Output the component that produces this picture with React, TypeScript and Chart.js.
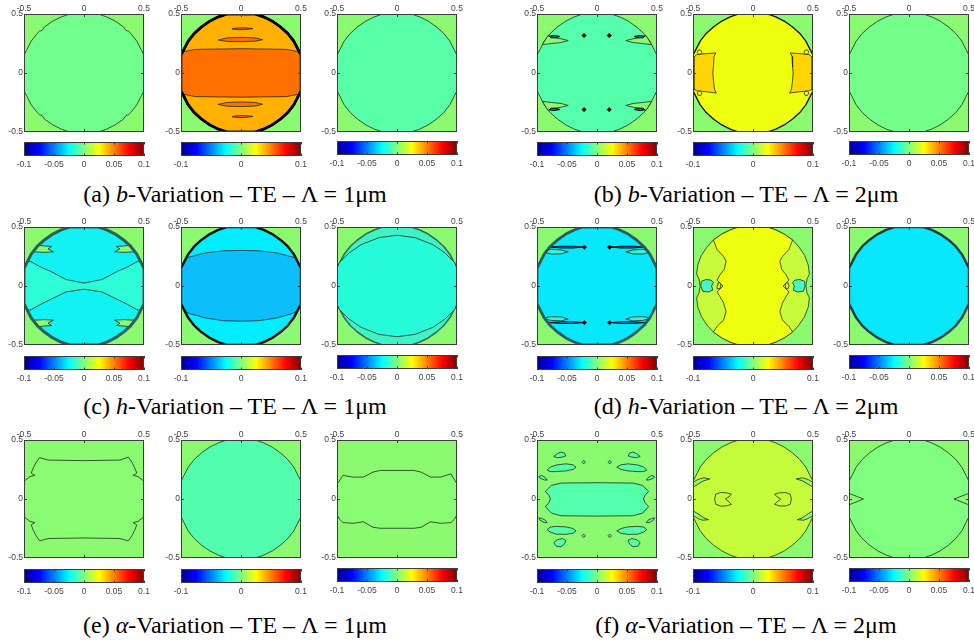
import React, { useEffect, useRef } from 'react';
import { Chart, registerables } from 'chart.js';

Chart.register(...registerables);

type Pt = [number, number];

// ---------------- tick values ----------------
const AXIS_TICKS = [-0.5, 0, 0.5];
const CB_TICKS_FULL = [-0.1, -0.05, 0, 0.05, 0.1];
const CB_TICKS_SHORT = [-0.1, 0, 0.1];
const CB_RANGE: [number, number] = [-0.1, 0.1];

// ---------------- captions ----------------
const CAPTION_LETTERS = ['a', 'b', 'c', 'd', 'e', 'f'];
const CAPTION_VARS = ['b', 'b', 'h', 'h', 'α', 'α'];
const CAPTION_LAMBDA = ['1μm', '2μm', '1μm', '2μm', '1μm', '2μm'];

// ---------------- contour regions (normalised x, y) ----------------
const BOX: Pt[] = [[-0.5, -0.5], [0.5, -0.5], [0.5, 0.5], [-0.5, 0.5]];

const DISC: Pt[] = [
  [-0.12, 0.5], [0.12, 0.5], [0.19, 0.475], [0.26, 0.44], [0.33, 0.39], [0.39, 0.335], [0.44, 0.27], [0.475, 0.2], [0.5, 0.15],
  [0.5, -0.15], [0.475, -0.2], [0.44, -0.27], [0.39, -0.335], [0.33, -0.39], [0.26, -0.44], [0.19, -0.475], [0.12, -0.5],
  [-0.12, -0.5], [-0.19, -0.475], [-0.26, -0.44], [-0.33, -0.39], [-0.39, -0.335], [-0.44, -0.27], [-0.475, -0.2], [-0.5, -0.15],
  [-0.5, 0.15], [-0.475, 0.2], [-0.44, 0.27], [-0.39, 0.335], [-0.33, 0.39], [-0.26, 0.44], [-0.19, 0.475],
];

const A1_DISC: Pt[] = [
  [-0.12, 0.5], [0.12, 0.5], [0.19, 0.475], [0.26, 0.44], [0.33, 0.39], [0.35, 0.36], [0.37, 0.355], [0.39, 0.335], [0.44, 0.27], [0.475, 0.2], [0.5, 0.15],
  [0.5, -0.15], [0.475, -0.2], [0.44, -0.27], [0.39, -0.335], [0.37, -0.355], [0.35, -0.36], [0.33, -0.39], [0.26, -0.44], [0.19, -0.475], [0.12, -0.5],
  [-0.12, -0.5], [-0.19, -0.475], [-0.26, -0.44], [-0.33, -0.39], [-0.35, -0.36], [-0.37, -0.355], [-0.39, -0.335], [-0.44, -0.27], [-0.475, -0.2], [-0.5, -0.15],
  [-0.5, 0.15], [-0.475, 0.2], [-0.44, 0.27], [-0.39, 0.335], [-0.37, 0.355], [-0.35, 0.36], [-0.33, 0.39], [-0.26, 0.44], [-0.19, 0.475],
];

const A2_BAND: Pt[] = [
  [-0.48, 0.18], [-0.38, 0.2], [0, 0.206], [0.38, 0.2], [0.48, 0.18], [0.5, 0.15], [0.5, -0.15], [0.48, -0.18],
  [0.38, -0.2], [0, -0.205], [-0.38, -0.2], [-0.48, -0.18], [-0.5, -0.15], [-0.5, 0.15],
];
const A2_SLIT_1: Pt[] = [[-0.075, 0.374], [-0.03, 0.382], [0.03, 0.384], [0.1, 0.376], [0.03, 0.368], [-0.03, 0.367]];
const A2_SLIT_2: Pt[] = [[-0.19, 0.28], [-0.12, 0.297], [0, 0.302], [0.12, 0.297], [0.18, 0.282], [0.12, 0.27], [0, 0.265], [-0.12, 0.268]];
const A2_SLIT_3: Pt[] = [[-0.19, -0.266], [-0.12, -0.25], [0, -0.245], [0.12, -0.25], [0.18, -0.264], [0.12, -0.28], [0, -0.285], [-0.12, -0.281]];
const A2_SLIT_4: Pt[] = [[-0.075, -0.37], [-0.03, -0.362], [0.03, -0.361], [0.1, -0.368], [0.03, -0.377], [-0.03, -0.378]];

const B1_BAY_TL: Pt[] = [[-0.41, 0.315], [-0.36, 0.3], [-0.3, 0.29], [-0.24, 0.275], [-0.3, 0.258], [-0.38, 0.25], [-0.455, 0.24]];
const B1_BAY_TR: Pt[] = [[0.41, 0.315], [0.36, 0.3], [0.3, 0.29], [0.24, 0.275], [0.3, 0.258], [0.38, 0.25], [0.455, 0.24]];
const B1_BAY_BL: Pt[] = [[-0.41, -0.315], [-0.36, -0.3], [-0.3, -0.29], [-0.24, -0.275], [-0.3, -0.258], [-0.38, -0.25], [-0.455, -0.24]];
const B1_BAY_BR: Pt[] = [[0.41, -0.315], [0.36, -0.3], [0.3, -0.29], [0.24, -0.275], [0.3, -0.258], [0.38, -0.25], [0.455, -0.24]];
const B1_BLOB_TL: Pt[] = [[-0.4, 0.312], [-0.36, 0.318], [-0.31, 0.31], [-0.33, 0.3], [-0.38, 0.298]];
const B1_BLOB_TR: Pt[] = [[0.4, 0.312], [0.36, 0.318], [0.31, 0.31], [0.33, 0.3], [0.38, 0.298]];
const B1_BLOB_BL: Pt[] = [[-0.4, -0.312], [-0.36, -0.318], [-0.31, -0.31], [-0.33, -0.3], [-0.38, -0.298]];
const B1_BLOB_BR: Pt[] = [[0.4, -0.312], [0.36, -0.318], [0.31, -0.31], [0.33, -0.3], [0.38, -0.298]];
const B1_MARKS: Pt[] = [[-0.108, 0.318], [0.102, 0.318], [-0.108, -0.31], [0.102, -0.31]];

const B2_SIDE_L: Pt[] = [
  [-0.5, 0.13], [-0.47, 0.155], [-0.43, 0.16], [-0.38, 0.165], [-0.31, 0.17], [-0.325, 0.14], [-0.33, 0.05], [-0.335, 0],
  [-0.33, -0.06], [-0.32, -0.14], [-0.305, -0.17], [-0.38, -0.16], [-0.43, -0.155], [-0.47, -0.15], [-0.5, -0.13],
];
const B2_SIDE_R: Pt[] = [
  [0.5, 0.13], [0.47, 0.155], [0.43, 0.16], [0.38, 0.165], [0.31, 0.17], [0.325, 0.14], [0.33, 0.05], [0.335, 0],
  [0.33, -0.06], [0.32, -0.14], [0.305, -0.17], [0.38, -0.16], [0.43, -0.155], [0.47, -0.15], [0.5, -0.13],
];
const B2_LOOP_TL: Pt[] = [[-0.465, 0.175], [-0.455, 0.195], [-0.435, 0.195], [-0.425, 0.175], [-0.435, 0.16], [-0.455, 0.16]];
const B2_LOOP_TR: Pt[] = [[0.465, 0.175], [0.455, 0.195], [0.435, 0.195], [0.425, 0.175], [0.435, 0.16], [0.455, 0.16]];
const B2_LOOP_BL: Pt[] = [[-0.465, -0.17], [-0.455, -0.155], [-0.435, -0.155], [-0.425, -0.17], [-0.435, -0.19], [-0.455, -0.19]];
const B2_LOOP_BR: Pt[] = [[0.465, -0.17], [0.455, -0.155], [0.435, -0.155], [0.425, -0.17], [0.435, -0.19], [0.455, -0.19]];
const B2_EDGE_L: Pt[] = [[-0.5, 0.14], [-0.5, -0.14]];
const B2_EDGE_R: Pt[] = [[0.5, 0.14], [0.5, -0.14]];

const C1_BOWTIE: Pt[] = [
  [-0.45, 0.21], [-0.36, 0.16], [-0.28, 0.125], [-0.15, 0.055], [0, 0.025], [0.15, 0.055], [0.28, 0.125], [0.36, 0.16], [0.45, 0.21],
  [0.475, 0.2], [0.5, 0.15], [0.5, -0.15], [0.475, -0.2], [0.45, -0.205], [0.36, -0.155], [0.28, -0.115], [0.15, -0.05], [0, -0.027],
  [-0.15, -0.05], [-0.28, -0.115], [-0.36, -0.155], [-0.45, -0.205], [-0.475, -0.2], [-0.5, -0.15], [-0.5, 0.15], [-0.475, 0.2],
];
const C1_HOOK_TL: Pt[] = [[-0.38, 0.345], [-0.34, 0.34], [-0.27, 0.335], [-0.3, 0.315], [-0.255, 0.29], [-0.33, 0.285], [-0.425, 0.29]];
const C1_HOOK_TR: Pt[] = [[0.38, 0.345], [0.34, 0.34], [0.27, 0.335], [0.3, 0.315], [0.255, 0.29], [0.33, 0.285], [0.425, 0.29]];
const C1_HOOK_BL: Pt[] = [[-0.38, -0.345], [-0.34, -0.34], [-0.27, -0.335], [-0.3, -0.315], [-0.255, -0.29], [-0.33, -0.285], [-0.425, -0.29]];
const C1_HOOK_BR: Pt[] = [[0.38, -0.345], [0.34, -0.34], [0.27, -0.335], [0.3, -0.315], [0.255, -0.29], [0.33, -0.285], [0.425, -0.29]];

const C2_BAND: Pt[] = [
  [-0.45, 0.24], [-0.3, 0.28], [-0.15, 0.298], [0, 0.302], [0.15, 0.298], [0.3, 0.28], [0.45, 0.24], [0.475, 0.2], [0.5, 0.15],
  [0.5, -0.15], [0.475, -0.2], [0.44, -0.23], [0.3, -0.27], [0.15, -0.294], [0, -0.298], [-0.15, -0.294], [-0.3, -0.27],
  [-0.44, -0.23], [-0.475, -0.2], [-0.5, -0.15], [-0.5, 0.15], [-0.475, 0.2],
];

const C3_CENTER: Pt[] = [
  [-0.48, 0.2], [-0.4, 0.28], [-0.3, 0.35], [-0.15, 0.41], [0, 0.43], [0.15, 0.41], [0.3, 0.35], [0.4, 0.28], [0.48, 0.2], [0.5, 0.15],
  [0.5, -0.15], [0.48, -0.2], [0.4, -0.28], [0.3, -0.35], [0.15, -0.41], [0, -0.43], [-0.15, -0.41], [-0.3, -0.35], [-0.4, -0.28],
  [-0.48, -0.2], [-0.5, -0.15], [-0.5, 0.15],
];

const D1_STRIP_TL: Pt[] = [[-0.4, 0.33], [-0.3, 0.337], [-0.2, 0.337], [-0.11, 0.33], [-0.2, 0.322], [-0.3, 0.322]];
const D1_STRIP_TR: Pt[] = [[0.4, 0.33], [0.3, 0.337], [0.2, 0.337], [0.11, 0.33], [0.2, 0.322], [0.3, 0.322]];
const D1_STRIP_BL: Pt[] = [[-0.4, -0.31], [-0.3, -0.303], [-0.2, -0.303], [-0.11, -0.31], [-0.2, -0.318], [-0.3, -0.318]];
const D1_STRIP_BR: Pt[] = [[0.4, -0.31], [0.3, -0.303], [0.2, -0.303], [0.11, -0.31], [0.2, -0.318], [0.3, -0.318]];
const D1_LOOP_TL: Pt[] = [[-0.43, 0.3], [-0.38, 0.312], [-0.3, 0.305], [-0.24, 0.29], [-0.3, 0.272], [-0.38, 0.27], [-0.42, 0.28]];
const D1_LOOP_TR: Pt[] = [[0.43, 0.3], [0.38, 0.312], [0.3, 0.305], [0.24, 0.29], [0.3, 0.272], [0.38, 0.27], [0.42, 0.28]];
const D1_LOOP_BL: Pt[] = [[-0.43, -0.28], [-0.38, -0.292], [-0.3, -0.296], [-0.24, -0.28], [-0.3, -0.262], [-0.38, -0.26], [-0.42, -0.265]];
const D1_LOOP_BR: Pt[] = [[0.43, -0.28], [0.38, -0.292], [0.3, -0.296], [0.24, -0.28], [0.3, -0.262], [0.38, -0.26], [0.42, -0.265]];
const D1_MARKS: Pt[] = [[-0.105, 0.329], [0.105, 0.329], [-0.105, -0.31], [0.105, -0.31]];

const D2_OUTER: Pt[] = [
  [-0.12, 0.5], [0.12, 0.5], [0.19, 0.475], [0.26, 0.44], [0.33, 0.39], [0.38, 0.335], [0.43, 0.26], [0.46, 0.18], [0.47, 0.1],
  [0.45, 0.06], [0.44, 0], [0.45, -0.06], [0.47, -0.1], [0.46, -0.18], [0.43, -0.26], [0.38, -0.335], [0.33, -0.39], [0.26, -0.44],
  [0.19, -0.475], [0.12, -0.5], [-0.12, -0.5], [-0.19, -0.475], [-0.26, -0.44], [-0.33, -0.39], [-0.38, -0.335], [-0.43, -0.26],
  [-0.46, -0.18], [-0.47, -0.1], [-0.45, -0.06], [-0.44, 0], [-0.45, 0.06], [-0.47, 0.1], [-0.46, 0.18], [-0.43, 0.26],
  [-0.38, 0.335], [-0.33, 0.39], [-0.26, 0.44], [-0.19, 0.475],
];
const D2_INNER: Pt[] = [
  [-0.33, 0.39], [-0.26, 0.44], [-0.19, 0.475], [-0.12, 0.5], [0.12, 0.5], [0.19, 0.475], [0.26, 0.44], [0.33, 0.39],
  [0.3, 0.31], [0.245, 0.25], [0.224, 0.21], [0.24, 0.14], [0.275, 0.095], [0.3, 0.05], [0.25, 0], [0.3, -0.05],
  [0.275, -0.09], [0.245, -0.145], [0.224, -0.217], [0.245, -0.288], [0.3, -0.344], [0.33, -0.39], [0.26, -0.44],
  [0.19, -0.475], [0.12, -0.5], [-0.12, -0.5], [-0.19, -0.475], [-0.26, -0.44], [-0.33, -0.39], [-0.3, -0.344],
  [-0.245, -0.288], [-0.224, -0.217], [-0.245, -0.145], [-0.275, -0.09], [-0.3, -0.05], [-0.25, 0], [-0.3, 0.05],
  [-0.275, 0.095], [-0.24, 0.14], [-0.224, 0.21], [-0.245, 0.25], [-0.3, 0.31],
];
const D2_BLOB_L: Pt[] = [[-0.43, 0.04], [-0.39, 0.055], [-0.35, 0.05], [-0.33, 0.03], [-0.345, 0], [-0.335, -0.035], [-0.37, -0.05], [-0.42, -0.045], [-0.435, 0]];
const D2_BLOB_R: Pt[] = [[0.43, 0.04], [0.39, 0.055], [0.35, 0.05], [0.33, 0.03], [0.345, 0], [0.335, -0.035], [0.37, -0.05], [0.42, -0.045], [0.435, 0]];
const D2_DOT_L: Pt[] = [[-0.3, 0.003], [-0.292, 0.028], [-0.276, 0.028], [-0.268, 0.003], [-0.276, -0.022], [-0.292, -0.022]];
const D2_DOT_R: Pt[] = [[0.3, 0.003], [0.292, 0.028], [0.276, 0.028], [0.268, 0.003], [0.276, -0.022], [0.292, -0.022]];

const E1_REGION: Pt[] = [
  [-0.37, 0.35], [-0.3, 0.33], [0, 0.325], [0.3, 0.33], [0.37, 0.355], [0.4, 0.31], [0.42, 0.27], [0.44, 0.22], [0.41, 0.2],
  [0.45, 0.19], [0.5, 0.15], [0.5, -0.15], [0.45, -0.19], [0.41, -0.2], [0.44, -0.22], [0.42, -0.27], [0.4, -0.31], [0.37, -0.355],
  [0.3, -0.335], [0, -0.33], [-0.3, -0.335], [-0.37, -0.355], [-0.4, -0.31], [-0.42, -0.27], [-0.44, -0.22], [-0.41, -0.2],
  [-0.45, -0.19], [-0.5, -0.15], [-0.5, 0.15], [-0.45, 0.19], [-0.41, 0.2], [-0.44, 0.22], [-0.42, 0.27], [-0.4, 0.31],
];

const E3_REGION: Pt[] = [
  [-0.49, 0.14], [-0.45, 0.2], [-0.365, 0.185], [-0.28, 0.186], [-0.2, 0.228], [-0.14, 0.242], [0.14, 0.242], [0.2, 0.228],
  [0.28, 0.186], [0.365, 0.186], [0.45, 0.214], [0.48, 0.16], [0.5, 0.13], [0.5, -0.13], [0.48, -0.17], [0.45, -0.2],
  [0.365, -0.206], [0.28, -0.193], [0.2, -0.24], [0.14, -0.248], [-0.14, -0.248], [-0.2, -0.24], [-0.28, -0.193],
  [-0.365, -0.206], [-0.45, -0.2], [-0.48, -0.17], [-0.5, -0.13], [-0.5, 0.13],
];

const F1_CENTER: Pt[] = [
  [-0.3, 0.135], [0, 0.138], [0.3, 0.135], [0.38, 0.115], [0.43, 0.065], [0.4, 0.03], [0.388, 0], [0.4, -0.03], [0.43, -0.065],
  [0.38, -0.12], [0.3, -0.142], [0, -0.145], [-0.3, -0.142], [-0.38, -0.12], [-0.43, -0.065], [-0.4, -0.03], [-0.388, 0],
  [-0.4, 0.03], [-0.43, 0.065], [-0.38, 0.115],
];
const F1_UL: Pt[] = [[-0.415, 0.245], [-0.39, 0.27], [-0.34, 0.288], [-0.26, 0.298], [-0.2, 0.29], [-0.175, 0.27], [-0.2, 0.25], [-0.26, 0.238], [-0.34, 0.232], [-0.39, 0.232]];
const F1_UR: Pt[] = [[0.415, 0.245], [0.39, 0.27], [0.34, 0.288], [0.26, 0.298], [0.2, 0.29], [0.165, 0.27], [0.2, 0.25], [0.26, 0.238], [0.34, 0.232], [0.39, 0.232]];
const F1_LL: Pt[] = [[-0.415, -0.26], [-0.39, -0.238], [-0.34, -0.232], [-0.26, -0.236], [-0.2, -0.25], [-0.175, -0.27], [-0.2, -0.29], [-0.26, -0.3], [-0.34, -0.298], [-0.39, -0.28]];
const F1_LR: Pt[] = [[0.415, -0.26], [0.39, -0.238], [0.34, -0.232], [0.26, -0.236], [0.2, -0.25], [0.165, -0.27], [0.2, -0.29], [0.26, -0.3], [0.34, -0.298], [0.39, -0.28]];
const F1_TOP_L: Pt[] = [[-0.36, 0.36], [-0.33, 0.385], [-0.3, 0.398], [-0.27, 0.388], [-0.26, 0.365], [-0.29, 0.355], [-0.33, 0.35]];
const F1_TOP_R: Pt[] = [[0.36, 0.36], [0.33, 0.385], [0.3, 0.398], [0.27, 0.388], [0.26, 0.365], [0.29, 0.355], [0.33, 0.35]];
const F1_BOT_L: Pt[] = [[-0.36, -0.37], [-0.33, -0.345], [-0.29, -0.335], [-0.26, -0.35], [-0.27, -0.38], [-0.3, -0.405], [-0.34, -0.4]];
const F1_BOT_R: Pt[] = [[0.36, -0.37], [0.33, -0.345], [0.29, -0.335], [0.26, -0.35], [0.27, -0.38], [0.3, -0.405], [0.34, -0.4]];
const F1_DIA_TL: Pt[] = [[-0.125, 0.312], [-0.111, 0.327], [-0.097, 0.312], [-0.111, 0.297]];
const F1_DIA_TR: Pt[] = [[0.092, 0.312], [0.106, 0.327], [0.12, 0.312], [0.106, 0.297]];
const F1_DIA_BL: Pt[] = [[-0.125, -0.312], [-0.111, -0.297], [-0.097, -0.312], [-0.111, -0.327]];
const F1_DIA_BR: Pt[] = [[0.092, -0.312], [0.106, -0.297], [0.12, -0.312], [0.106, -0.327]];
const F1_SLIV_TL: Pt[] = [[-0.485, 0.19], [-0.46, 0.2], [-0.43, 0.18], [-0.415, 0.16], [-0.44, 0.162], [-0.475, 0.175]];
const F1_SLIV_TR: Pt[] = [[0.48, 0.19], [0.455, 0.2], [0.425, 0.18], [0.41, 0.16], [0.435, 0.162], [0.47, 0.175]];
const F1_SLIV_BL: Pt[] = [[-0.485, -0.16], [-0.46, -0.165], [-0.43, -0.18], [-0.415, -0.2], [-0.44, -0.2], [-0.475, -0.18]];
const F1_SLIV_BR: Pt[] = [[0.48, -0.16], [0.455, -0.165], [0.425, -0.18], [0.41, -0.2], [0.435, -0.2], [0.47, -0.18]];

const F2_WEDGE_UL: Pt[] = [[-0.5, 0.14], [-0.46, 0.165], [-0.41, 0.18], [-0.36, 0.17], [-0.41, 0.155], [-0.46, 0.125], [-0.5, 0.1]];
const F2_WEDGE_LL: Pt[] = [[-0.5, -0.1], [-0.46, -0.125], [-0.41, -0.16], [-0.37, -0.175], [-0.42, -0.18], [-0.46, -0.165], [-0.5, -0.14]];
const F2_WEDGE_UR: Pt[] = [[0.5, 0.14], [0.46, 0.165], [0.41, 0.18], [0.36, 0.17], [0.41, 0.155], [0.46, 0.125], [0.5, 0.1]];
const F2_WEDGE_LR: Pt[] = [[0.5, -0.1], [0.46, -0.125], [0.41, -0.16], [0.37, -0.175], [0.42, -0.18], [0.46, -0.165], [0.5, -0.14]];
const F2_CRES_L: Pt[] = [[-0.31, 0.04], [-0.27, 0.055], [-0.22, 0.052], [-0.18, 0.04], [-0.2, 0.02], [-0.23, 0], [-0.2, -0.025], [-0.18, -0.045], [-0.22, -0.058], [-0.27, -0.06], [-0.31, -0.045], [-0.32, 0]];
const F2_CRES_R: Pt[] = [[0.31, 0.04], [0.27, 0.055], [0.22, 0.052], [0.18, 0.04], [0.2, 0.02], [0.23, 0], [0.2, -0.025], [0.18, -0.045], [0.22, -0.058], [0.27, -0.06], [0.31, -0.045], [0.32, 0]];

const F3_WEDGE_L: Pt[] = [[-0.5, 0.048], [-0.38, 0], [-0.5, -0.05]];
const F3_WEDGE_R: Pt[] = [[0.5, 0.048], [0.376, 0], [0.5, -0.05]];

// ---------------- styles ----------------
const BG = '#8CFA70';
const LINE = 'rgba(25,35,25,0.85)';
const TICK_COLOR = '#444';
const FRAME_COLOR = '#3c3c3c';
const JET_STOPS: [number, string][] = [
  [0, '#00008F'], [0.125, '#0000FF'], [0.375, '#00FFFF'], [0.625, '#FFFF00'], [0.875, '#FF0000'], [1, '#800000'],
];

type Layer = { pts: Pt[]; fill: string | null; line: string | null; width: number };
type PanelSpec = { layers: Layer[]; marks?: Pt[] };

const L = (pts: Pt[], fill: string | null, line: string | null = LINE, width = 0.9): Layer => ({ pts, fill, line, width });
const O = (pts: Pt[], line: string, width: number): Layer => ({ pts, fill: null, line, width });
const G = (pts: Pt[], fill: string): Layer => ({ pts, fill, line: null, width: 0 });

const PANELS: PanelSpec[][] = [
  [
    { layers: [G(BOX, BG), L(A1_DISC, '#72FE8C')] },
    {
      layers: [G(BOX, BG), L(DISC, '#FFB000', '#000', 2.5), L(A2_BAND, '#FF7000'), L(A2_SLIT_1, '#F06A00'), L(A2_SLIT_2, '#FF7000'),
        L(A2_SLIT_3, '#FF7000'), L(A2_SLIT_4, '#F06A00'), O(DISC, '#000', 2.6)],
    },
    { layers: [G(BOX, BG), L(DISC, '#58FEA8')] },
    {
      layers: [G(BOX, BG), L(DISC, '#55FEAA'), L(B1_BAY_TL, BG), L(B1_BAY_TR, BG), L(B1_BAY_BL, BG), L(B1_BAY_BR, BG),
        L(B1_BLOB_TL, '#0B7FA0', '#000', 1), L(B1_BLOB_TR, '#0B7FA0', '#000', 1), L(B1_BLOB_BL, '#0B7FA0', '#000', 1), L(B1_BLOB_BR, '#0B7FA0', '#000', 1)],
      marks: B1_MARKS,
    },
    {
      layers: [G(BOX, BG), L(DISC, '#EEFF10', '#111', 1.3), L(B2_SIDE_L, '#FFD600'), L(B2_SIDE_R, '#FFD600'),
        L(B2_LOOP_TL, '#EEFF10'), L(B2_LOOP_TR, '#EEFF10'), L(B2_LOOP_BL, '#EEFF10'), L(B2_LOOP_BR, '#EEFF10'),
        O(B2_EDGE_L, '#000', 3), O(B2_EDGE_R, '#000', 3)],
    },
    { layers: [G(BOX, BG), L(DISC, '#74FE8A')] },
  ],
  [
    {
      layers: [G(BOX, BG), L(DISC, '#12F2F2'), L(C1_BOWTIE, '#2CFDD6'), L(C1_HOOK_TL, BG), L(C1_HOOK_TR, BG), L(C1_HOOK_BL, BG),
        L(C1_HOOK_BR, BG), O(DISC, '#2E5E58', 3)],
    },
    { layers: [G(BOX, BG), L(DISC, '#04ECFF'), L(C2_BAND, '#0CBEFA'), O(DISC, '#111', 2.4)] },
    { layers: [G(BOX, BG), L(DISC, '#40F3C6', '#3A6A55', 1.6), L(C3_CENTER, '#26FCDA')] },
    {
      layers: [G(BOX, BG), L(DISC, '#08E8FA'), L(D1_LOOP_TL, '#3CF2D6'), L(D1_LOOP_TR, '#3CF2D6'), L(D1_LOOP_BL, '#3CF2D6'),
        L(D1_LOOP_BR, '#3CF2D6'), L(D1_STRIP_TL, '#0A8CE0', '#000', 0.9), L(D1_STRIP_TR, '#0A8CE0', '#000', 0.9),
        L(D1_STRIP_BL, '#0A8CE0', '#000', 0.9), L(D1_STRIP_BR, '#0A8CE0', '#000', 0.9), O(DISC, '#2B5A60', 2.8)],
      marks: D1_MARKS,
    },
    {
      layers: [G(BOX, BG), L(D2_OUTER, '#C8FB3C'), L(D2_INNER, '#EEFF10'), L(D2_BLOB_L, '#48F6C2'), L(D2_BLOB_R, '#48F6C2'),
        L(D2_DOT_L, '#EEFF10'), L(D2_DOT_R, '#EEFF10')],
    },
    { layers: [G(BOX, BG), L(DISC, '#08E8FA'), O(DISC, '#1E3E44', 2.4)] },
  ],
  [
    { layers: [G(BOX, BG), L(E1_REGION, '#8AFC73')] },
    { layers: [G(BOX, BG), L(DISC, '#52FEAE')] },
    { layers: [G(BOX, BG), L(E3_REGION, '#8AFC73')] },
    {
      layers: [G(BOX, BG), L(F1_CENTER, '#55FEAA'), L(F1_UL, '#55FEAA'), L(F1_UR, '#55FEAA'), L(F1_LL, '#55FEAA'), L(F1_LR, '#55FEAA'),
        L(F1_TOP_L, '#55FEAA'), L(F1_TOP_R, '#55FEAA'), L(F1_BOT_L, '#55FEAA'), L(F1_BOT_R, '#55FEAA'),
        L(F1_DIA_TL, '#55FEAA'), L(F1_DIA_TR, '#55FEAA'), L(F1_DIA_BL, '#55FEAA'), L(F1_DIA_BR, '#55FEAA'),
        L(F1_SLIV_TL, '#55FEAA'), L(F1_SLIV_TR, '#55FEAA'), L(F1_SLIV_BL, '#55FEAA'), L(F1_SLIV_BR, '#55FEAA')],
    },
    {
      layers: [G(BOX, BG), L(DISC, '#C4FC3C'), L(F2_WEDGE_UL, BG), L(F2_WEDGE_LL, BG), L(F2_WEDGE_UR, BG), L(F2_WEDGE_LR, BG),
        L(F2_CRES_L, '#C4FC3C'), L(F2_CRES_R, '#C4FC3C')],
    },
    { layers: [G(BOX, BG), L(DISC, '#80FE80'), L(F3_WEDGE_L, BG), L(F3_WEDGE_R, BG)] },
  ],
];

// ---------------- page layout (pixels) ----------------
const PANEL_LEFTS = [24, 181, 337, 537, 693, 849];
const ROW_TOPS = [14, 227, 440];
const CB_TOPS = [142, 356, 569];
const CAPTION_TOPS = [182, 394, 613];
const CAPTION_CENTERS = [235, 746];
const BOX_W = 120;
const BOX_H = 118;
const Y_AXIS_W = 22;
const X_AXIS_H = 12;
const PAD_R = 10;
const PAD_B = 7;
const PW = Y_AXIS_W + BOX_W + PAD_R;
const PH = X_AXIS_H + BOX_H + PAD_B;
const CB_PAD = 12;
const CB_BAR_H = 14;
const CB_AXIS_H = 13;
const CW = BOX_W + 2 * CB_PAD;
const CH = CB_BAR_H + CB_AXIS_H;

const FONT = { family: '"Liberation Sans", Arial, sans-serif', size: 8.5 };

const framePlugin = {
  id: 'frame',
  afterDatasetsDraw(chart: any, _args: any, opts: any) {
    const { ctx, chartArea: a } = chart;
    ctx.save();
    ctx.strokeStyle = FRAME_COLOR;
    ctx.lineWidth = 1;
    ctx.strokeRect(a.left + 0.5, a.top + 0.5, a.right - a.left - 1, a.bottom - a.top - 1);
    const len = opts.len ?? 3;
    ctx.beginPath();
    (opts.xTicks || []).forEach((v: number) => {
      const px = Math.round(chart.scales.x.getPixelForValue(v)) + 0.5;
      ctx.moveTo(px, a.top);
      ctx.lineTo(px, a.top + len);
      ctx.moveTo(px, a.bottom);
      ctx.lineTo(px, a.bottom - len);
    });
    (opts.yTicks || []).forEach((v: number) => {
      const py = Math.round(chart.scales.y.getPixelForValue(v)) + 0.5;
      ctx.moveTo(a.left, py);
      ctx.lineTo(a.left + len, py);
      ctx.moveTo(a.right, py);
      ctx.lineTo(a.right - len, py);
    });
    ctx.stroke();
    ctx.restore();
  },
};

function jetGradient(chart: any) {
  const a = chart.chartArea;
  if (!a) return '#000';
  const g = chart.ctx.createLinearGradient(a.left, 0, a.right, 0);
  JET_STOPS.forEach(([o, c]) => g.addColorStop(o, c));
  return g;
}

function PanelChart({ spec, left, top }: { spec: PanelSpec; left: number; top: number }) {
  const ref = useRef<HTMLCanvasElement>(null);
  useEffect(() => {
    const n = spec.layers.length;
    const datasets: any[] = spec.layers.map((l, i) => ({
      data: [...l.pts, l.pts[0]].map(([x, y]) => ({ x, y })),
      showLine: true,
      fill: l.fill ? 'shape' : false,
      backgroundColor: l.fill ?? 'rgba(0,0,0,0)',
      borderColor: l.line ?? 'rgba(0,0,0,0)',
      borderWidth: l.line ? l.width : 0,
      borderJoinStyle: 'round',
      pointRadius: 0,
      pointHoverRadius: 0,
      tension: 0,
      order: n - i + 1,
    }));
    if (spec.marks) {
      datasets.push({
        data: spec.marks.map(([x, y]) => ({ x, y })),
        showLine: false,
        pointStyle: 'rectRot',
        pointRadius: 2.2,
        backgroundColor: '#000',
        borderColor: '#000',
        borderWidth: 0.5,
        order: 0,
      });
    }
    const axis = (pos: 'top' | 'left') => ({
      type: 'linear',
      position: pos,
      min: -0.5,
      max: 0.5,
      afterBuildTicks: (s: any) => {
        s.ticks = AXIS_TICKS.map((v) => ({ value: v }));
      },
      afterFit: (s: any) => {
        if (pos === 'top') s.height = X_AXIS_H;
        else s.width = Y_AXIS_W;
      },
      grid: { display: false, drawTicks: false },
      border: { display: false },
      ticks: {
        font: FONT,
        color: TICK_COLOR,
        padding: pos === 'top' ? 0 : 1,
        maxRotation: 0,
        autoSkip: false,
        callback: (v: any) => String(v),
      },
    });
    const chart = new Chart(ref.current!, {
      type: 'scatter',
      data: { datasets },
      options: {
        animation: false,
        responsive: false,
        events: [],
        layout: { padding: { left: 0, top: 0, right: PAD_R, bottom: PAD_B } },
        plugins: {
          legend: { display: false },
          tooltip: { enabled: false },
          frame: { xTicks: [0], yTicks: [0], len: 3 },
        } as any,
        scales: { x: axis('top') as any, y: axis('left') as any },
      },
      plugins: [framePlugin],
    });
    return () => chart.destroy();
  }, [spec]);
  return (
    <canvas
      ref={ref}
      width={PW}
      height={PH}
      style={{ position: 'absolute', left: left - Y_AXIS_W, top: top - X_AXIS_H, width: PW, height: PH }}
    />
  );
}

function ColorBar({ left, top, ticks }: { left: number; top: number; ticks: number[] }) {
  const ref = useRef<HTMLCanvasElement>(null);
  useEffect(() => {
    const chart = new Chart(ref.current!, {
      type: 'bar',
      data: {
        labels: [''],
        datasets: [
          {
            data: [CB_RANGE] as any,
            backgroundColor: (c: any) => jetGradient(c.chart),
            borderWidth: 0,
            barPercentage: 1,
            categoryPercentage: 1,
          },
        ],
      },
      options: {
        indexAxis: 'y',
        animation: false,
        responsive: false,
        events: [],
        layout: { padding: { left: CB_PAD, right: CB_PAD, top: 0, bottom: 0 } },
        plugins: {
          legend: { display: false },
          tooltip: { enabled: false },
          frame: { xTicks: ticks, yTicks: [], len: 2.5 },
        } as any,
        scales: {
          x: {
            type: 'linear',
            min: CB_RANGE[0],
            max: CB_RANGE[1],
            afterBuildTicks: (s: any) => {
              s.ticks = ticks.map((v) => ({ value: v }));
            },
            afterFit: (s: any) => {
              s.height = CB_AXIS_H;
            },
            grid: { display: false, drawTicks: false },
            border: { display: false },
            ticks: { font: FONT, color: TICK_COLOR, padding: 4, maxRotation: 0, autoSkip: false, callback: (v: any) => String(v) },
          } as any,
          y: { display: false },
        },
      },
      plugins: [framePlugin],
    });
    return () => chart.destroy();
  }, [ticks]);
  return (
    <canvas ref={ref} width={CW} height={CH} style={{ position: 'absolute', left: left - CB_PAD, top, width: CW, height: CH }} />
  );
}

function Caption({ idx }: { idx: number }) {
  const row = Math.floor(idx / 2);
  const col = idx % 2;
  const cx = CAPTION_CENTERS[col];
  return (
    <div
      style={{
        position: 'absolute',
        left: cx - 250,
        width: 500,
        top: CAPTION_TOPS[row],
        textAlign: 'center',
        fontFamily: '"Liberation Serif", "Times New Roman", serif',
        fontSize: 24,
        lineHeight: '24px',
        whiteSpace: 'nowrap',
        color: '#000',
      }}
    >
      ({CAPTION_LETTERS[idx]}) <i>{CAPTION_VARS[idx]}</i>-Variation – TE – Λ = {CAPTION_LAMBDA[idx]}
    </div>
  );
}

export default function App() {
  return (
    <div style={{ position: 'absolute', left: 0, top: 0, width: 974, height: 643, background: '#fff', overflow: 'hidden' }}>
      {PANELS.map((row, r) =>
        row.map((spec, c) => (
          <React.Fragment key={`${r}-${c}`}>
            <PanelChart spec={spec} left={PANEL_LEFTS[c]} top={ROW_TOPS[r]} />
            <ColorBar
              left={PANEL_LEFTS[c]}
              top={CB_TOPS[r] - (c % 3 === 2 ? 1 : 0)}
              ticks={c % 3 === 1 ? CB_TICKS_SHORT : CB_TICKS_FULL}
            />
          </React.Fragment>
        ))
      )}
      {[0, 1, 2, 3, 4, 5].map((i) => (
        <Caption key={i} idx={i} />
      ))}
    </div>
  );
}
